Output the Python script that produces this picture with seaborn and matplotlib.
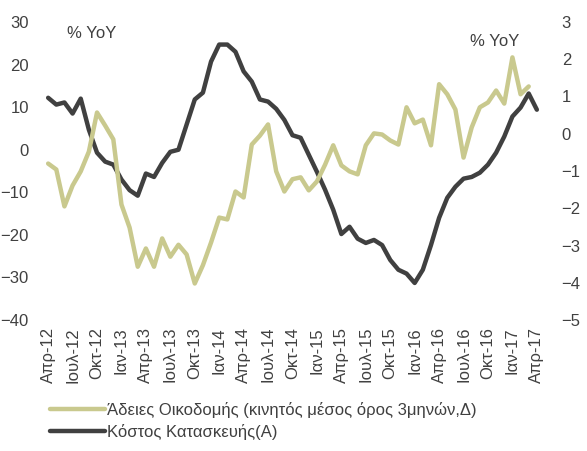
import matplotlib
matplotlib.use("Agg")
import matplotlib.pyplot as plt
import seaborn as sns
import pandas as pd
import numpy as np

sns.set_theme(style="white")
plt.rcParams['font.family'] = ['Liberation Sans', 'DejaVu Sans']

# Monthly data Apr-2012 .. Apr-2017
months = pd.date_range("2012-04-01", "2017-04-01", freq="MS")

# Κόστος Κατασκευής (A) - left axis
cost = [12.2, 10.6, 11.1, 8.5, 12.0, 4.7, -0.7, -2.8, -3.5, -7.0,
        -9.5, -10.8, -5.6, -6.4, -3.1, -0.5, 0.0, 5.9, 11.8, 13.4,
        20.7, 24.7, 24.7, 23.0, 18.4, 16.0, 11.8, 11.3, 9.6, 7.0,
        3.4, 2.8, -1.2, -5.2, -9.4, -14.1, -19.8, -18.1, -20.9, -21.9,
        -21.2, -22.4, -25.9, -28.2, -29.1, -31.3, -28.2, -22.4, -16.0, -11.3,
        -8.7, -6.8, -6.4, -5.4, -3.5, -0.7, 3.1, 7.8, 9.9, 13.2,
        9.4]

# Άδειες Οικοδομής (3m moving average, Δ) - right axis
permits = [-0.80, -0.96, -1.95, -1.39, -1.01, -0.48, 0.57, 0.22, -0.15, -1.90,
           -2.52, -3.57, -3.08, -3.57, -2.81, -3.30, -2.98, -3.24, -4.02, -3.53,
           -2.92, -2.25, -2.30, -1.55, -1.71, -0.29, -0.05, 0.25, -1.01, -1.55,
           -1.22, -1.17, -1.52, -1.28, -0.83, -0.31, -0.85, -1.01, -1.09, -0.31,
           0.01, -0.02, -0.18, -0.29, 0.71, 0.28, 0.38, -0.31, 1.33, 1.06,
           0.65, -0.64, 0.17, 0.71, 0.84, 1.16, 0.81, 2.05, 1.06, 1.27,
           np.nan]

tick_labels = ["Απρ-12", "Ιουλ-12", "Οκτ-12", "Ιαν-13", "Απρ-13", "Ιουλ-13", "Οκτ-13",
               "Ιαν-14", "Απρ-14", "Ιουλ-14", "Οκτ-14", "Ιαν-15", "Απρ-15", "Ιουλ-15",
               "Οκτ-15", "Ιαν-16", "Απρ-16", "Ιουλ-16", "Οκτ-16", "Ιαν-17", "Απρ-17"]

label_permits = "Άδειες Οικοδομής (κινητός μέσος όρος 3μηνών,Δ)"
label_cost = "Κόστος Κατασκευής(Α)"

df = pd.DataFrame({"idx": np.arange(len(months)), "cost": cost, "permits": permits})

khaki = "#C9C98E"
dark = "#404040"
txt = "#404040"

fig = plt.figure(figsize=(5.87, 4.51), dpi=100)
ax = fig.add_axes([40/587, 1-320/451, 505/587, 298/451])
ax2 = ax.twinx()

sns.lineplot(data=df, x="idx", y="permits", ax=ax2, color=khaki, lw=3.2, label=label_permits, legend=False)
sns.lineplot(data=df, x="idx", y="cost", ax=ax, color=dark, lw=3.2, label=label_cost, legend=False)

ax.set_xlim(-1, 61)
ax.set_ylim(-40, 30)
ax2.set_ylim(-5, 3)
ax.set_yticks(np.arange(-40, 31, 10))
ax2.set_yticks(np.arange(-5, 4, 1))
ax.set_xticks(np.arange(0, 61, 3))
ax.set_xticklabels(tick_labels, rotation=90)
for a in (ax, ax2):
    for s in a.spines.values():
        s.set_visible(False)
    a.set_xlabel("")
    a.set_ylabel("")
    a.tick_params(axis="both", length=0, labelsize=12, labelcolor=txt)
    a.grid(False)
ax.tick_params(axis="y", pad=8)
ax2.tick_params(axis="y", pad=12)
ax.tick_params(axis="x", pad=5)

fig.text(67/587, 1-33/451, "% YoY", fontsize=12, color=txt, va="center", ha="left")
fig.text(470/587, 1-42/451, "% YoY", fontsize=12, color=txt, va="center", ha="left")

h1, l1 = ax2.get_legend_handles_labels()
h2, l2 = ax.get_legend_handles_labels()
fig.legend(h1 + h2, l1 + l2, loc="upper left", bbox_to_anchor=(50/587, 1-402/451),
           frameon=False, fontsize=12, handlelength=3.3, handletextpad=0.1,
           labelspacing=0.35, labelcolor=txt, borderaxespad=0, borderpad=0)

fig.savefig("out.png", dpi=100)
